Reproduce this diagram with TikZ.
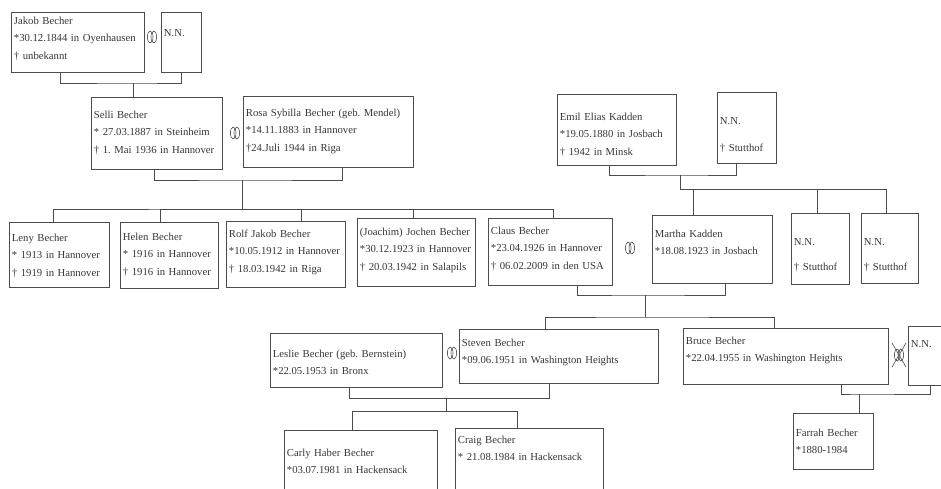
\documentclass[tikz,border=0pt]{standalone}
\usepackage{fontspec}
\setmainfont{Liberation Serif}
\frenchspacing
\hyphenpenalty=10000

\begin{document}
\begin{tikzpicture}[x=1pt,y=-1pt,
  person/.style={draw=lineColor,line width=0.8pt,anchor=north west,align=left,
    inner xsep=2.5pt,inner ysep=0pt,text=textColor,font=\fontsize{10.7}{17.5}\selectfont},
  link/.style={draw=lineColor,line width=0.8pt},
  rings/.pic={\draw[lineColor,line width=0.6pt] (-1.8,0) ellipse (2.8pt and 6pt) (1.8,0) ellipse (2.8pt and 6pt);},
  crossrings/.pic={\pic {rings}; \draw[lineColor,line width=0.6pt] (-7,-12) -- (7,12) (-7,12) -- (7,-12);}]
\definecolor{lineColor}{gray}{0.30}
\definecolor{textColor}{gray}{0.22}
\path[use as bounding box,fill=white] (0,0) rectangle (941,488);

\node[person,text width=128pt,text height=12pt,text depth=48pt] (jakob) at (11,12) {Jakob Becher\\{}*30.12.1844 in Oyenhausen\\† unbekannt};
\node[person,text width=35pt,text height=24pt,text depth=36pt] (nnA) at (161,12) {N.N.};
\node[person,text width=126pt,text height=21pt,text depth=51pt] (selli) at (91,97) {Selli Becher\\{}* 27.03.1887 in Steinheim\\† 1. Mai 1936 in Hannover};
\node[person,text width=165pt,text height=20pt,text depth=51pt] (rosa) at (243,96) {Rosa Sybilla Becher (geb. Mendel)\\{}*14.11.1883 in Hannover\\†24.Juli 1944 in Riga};
\node[person,text width=114pt,text height=26pt,text depth=45pt] (emil) at (557,94) {Emil Elias Kadden\\{}*19.05.1880 in Josbach\\† 1942 in Minsk};
\node[person,text width=54pt,text height=32pt,text depth=39pt] (nnD) at (717,92) {N.N.\\[10pt]† Stutthof};

\node[person,text width=95pt,text height=19pt,text depth=46pt] (leny) at (9,222) {Leny Becher\\{}* 1913 in Hannover\\† 1919 in Hannover};
\node[person,text width=93pt,text height=18pt,text depth=48pt] (helen) at (120,222) {Helen Becher\\{}* 1916 in Hannover\\† 1916 in Hannover};
\node[person,text width=114pt,text height=16pt,text depth=50pt] (rolf) at (226,221) {Rolf Jakob Becher\\{}*10.05.1912~in~Hannover\\† 18.03.1942 in Riga};
\node[person,text width=113pt,text height=17pt,text depth=51pt] (joachim) at (357,218) {(Joachim)~Jochen~Becher\\{}*30.12.1923~in~Hannover\\† 20.03.1942 in Salapils};
\node[person,text width=119pt,text height=16pt,text depth=51pt] (claus) at (488,218) {Claus Becher\\{}*23.04.1926 in Hannover\\† 06.02.2009 in den USA};
\node[person,text width=115pt,text height=22pt,text depth=46pt] (martha) at (652,215) {Martha Kadden\\{}*18.08.1923 in Josbach};
\node[person,text width=53pt,text height=32pt,text depth=39pt] (nnB) at (791,213) {N.N.\\[8pt]† Stutthof};
\node[person,text width=52pt,text height=32pt,text depth=38pt] (nnC) at (861,213) {N.N.\\[8pt]† Stutthof};

\node[person,text width=167pt,text height=24pt,text depth=30pt] (leslie) at (270,333) {Leslie Becher (geb. Bernstein)\\{}*22.05.1953 in Bronx};
\node[person,text width=194pt,text height=17pt,text depth=37pt] (steven) at (459,329) {Steven Becher\\{}*09.06.1951 in Washington Heights};
\node[person,text width=200pt,text height=16pt,text depth=40pt] (bruce) at (683,328) {Bruce Becher\\{}*22.04.1955 in Washington Heights};
\node[person,text width=47pt,text height=21pt,text depth=38pt] (nnE) at (908,326) {N.N.};
\node[person,text width=75pt,text height=23pt,text depth=33pt] (farrah) at (793,413) {Farrah Becher\\{}*1880-1984};
\node[person,text width=148pt,text height=26pt,text depth=44pt] (carly) at (284,430) {Carly Haber Becher\\{}*03.07.1981 in Hackensack};
\node[person,text width=143pt,text height=15pt,text depth=57pt] (craig) at (455,428) {Craig Becher\\{}* 21.08.1984 in Hackensack};

\pic at (152,37) {rings};
\pic at (235,133) {rings};
\pic at (630,248) {rings};
\pic at (452,353) {rings};
\pic at (899,355) {crossrings};

\coordinate (jbar) at (133,83);
\coordinate (sbar) at (242,180);
\coordinate (sib) at (242,209);
\coordinate (ebar) at (680,175);
\coordinate (kbar) at (680,189);
\coordinate (cbar) at (645,295);
\coordinate (cbar2) at (645,317);
\coordinate (lbar) at (446,398);
\coordinate (lbar2) at (446,411);
\coordinate (bbar) at (859,394);

\draw[link] ([xshift=-17.5pt]jakob.south) |- (jbar) -| (nnA.south);
\draw[link] (jbar) -- (jbar |- selli.north);

\draw[link] ([xshift=-2.5pt]selli.south) |- (sbar) -| ([xshift=14pt]rosa.south);
\draw[link] (sbar) -- (sib);
\draw[link] ([xshift=-6pt]leny.north) |- (sib) -| ([xshift=3pt]claus.north);
\foreach \n/\dx in {helen/-9pt,rolf/15.5pt,joachim/-3pt}
  \draw[link] ([xshift=\dx]\n.north) |- (sib);

\draw[link] ([xshift=-7.5pt]emil.south) |- (ebar) -| ([xshift=-10.5pt]nnD.south);
\draw[link] (ebar) -- (kbar) -| ([xshift=-3.5pt]nnC.north);
\draw[link] ([xshift=-19pt]martha.north) |- (kbar);
\draw[link] ([xshift=-3pt]nnB.north) |- (kbar);

\draw[link] ([xshift=27pt]claus.south) |- (cbar) -| ([xshift=13pt]martha.south);
\draw[link] (cbar) -- (cbar2);
\draw[link] ([xshift=-13.5pt]steven.north) |- (cbar2) -| ([xshift=-11.5pt]bruce.north);

\draw[link] ([xshift=-7pt]leslie.south) |- (lbar) -| ([xshift=-9.5pt]steven.south);
\draw[link] (lbar) -- (lbar2);
\draw[link] ([xshift=-8.5pt]carly.north) |- (lbar2) -| ([xshift=-12pt]craig.north);

\draw[link] ([xshift=55.5pt]bruce.south) |- (bbar) -| ([xshift=-4pt]nnE.south);
\draw[link] (bbar) -- (bbar |- farrah.north);
\end{tikzpicture}
\end{document}
